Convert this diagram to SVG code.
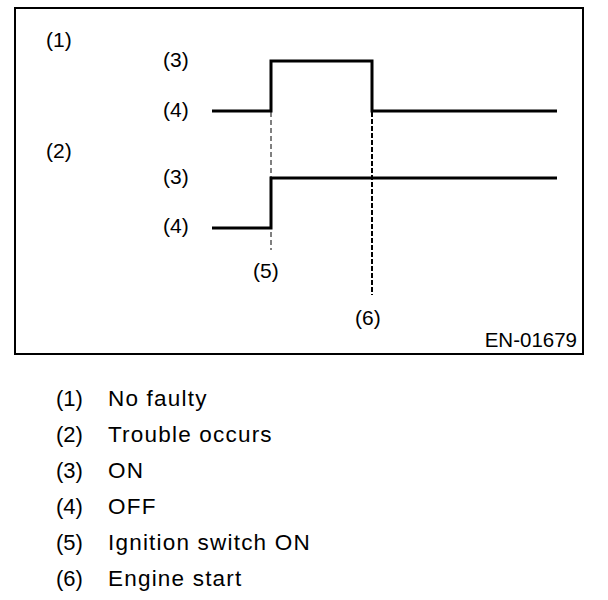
<svg xmlns="http://www.w3.org/2000/svg" width="608" height="600" viewBox="0 0 608 600">
<style>
text{font-family:"Liberation Sans",Arial,sans-serif;fill:#000}
.lb{font-size:21px}
.lg{font-size:22px}
.ld{font-size:22.5px;letter-spacing:1.2px}
.wave{fill:none;stroke:#000;stroke-width:3}
</style>
<rect x="0" y="0" width="608" height="600" fill="#fff"/>
<rect id="frame" x="15" y="8" width="568" height="346" fill="none" stroke="#000" stroke-width="2"/>
<g id="connectors">
<line x1="271" y1="112" x2="271" y2="250" stroke="#000" stroke-width="1" stroke-dasharray="5,3"/>
<line x1="372" y1="112" x2="372" y2="295" stroke="#000" stroke-width="2" stroke-dasharray="5,2"/>
<path id="wave1" class="wave" d="M212,111 H271 V61 H372 V111 H557"/>
<path id="wave2" class="wave" d="M212,228 H271 V178 H557"/>
</g>
<g id="labels">
<text class="lb" x="46" y="47">(1)</text>
<text class="lb" x="46" y="158">(2)</text>
<text class="lb" x="163" y="67">(3)</text>
<text class="lb" x="163" y="117">(4)</text>
<text class="lb" x="163" y="184">(3)</text>
<text class="lb" x="163" y="233">(4)</text>
<text class="lb" x="253" y="278">(5)</text>
<text class="lb" x="355" y="325">(6)</text>
<text style="font-size:20.5px" x="577" y="347" text-anchor="end">EN-01679</text>
</g>
<g id="legend">
<text class="lg" x="56" y="406">(1)</text><text class="ld" x="108" y="406">No faulty</text>
<text class="lg" x="56" y="442">(2)</text><text class="ld" x="108" y="442">Trouble occurs</text>
<text class="lg" x="56" y="478">(3)</text><text class="ld" x="108" y="478">ON</text>
<text class="lg" x="56" y="514">(4)</text><text class="ld" x="108" y="514">OFF</text>
<text class="lg" x="56" y="550">(5)</text><text class="ld" x="108" y="550">Ignition switch ON</text>
<text class="lg" x="56" y="586">(6)</text><text class="ld" x="108" y="586">Engine start</text>
</g>
</svg>
